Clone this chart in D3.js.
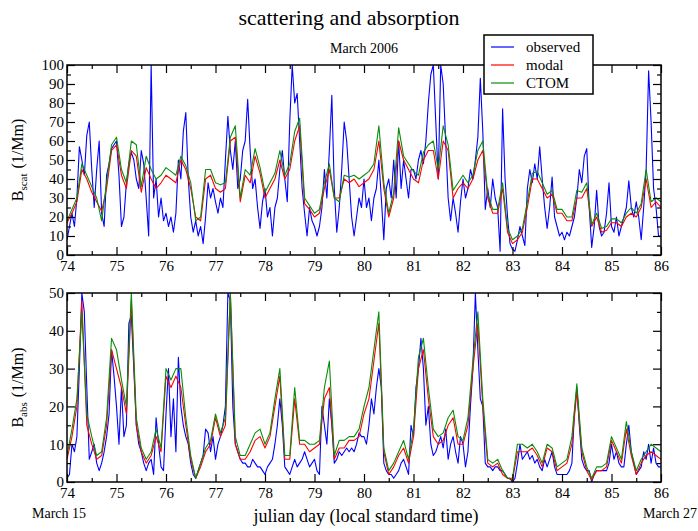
<!DOCTYPE html>
<html lang='en'>
<head>
	<meta charset='UTF-8'/>
	<title>scattering and absorption</title>
	<script src='https://cdn.jsdelivr.net/npm/d3@7'></script>
	<style>
		body {margin: 0; background: #fff;}
		svg {display: block;}
		text {font-family: 'Liberation Serif', 'Times New Roman', serif;}
		.axis path {display: none;}
		.axis line {stroke: #000; stroke-width: 1.2;}
		.axis text {font-size: 15px; fill: #000;}
	</style>
</head>
<body>
	<div class='graph'></div>
	<script>
		// sampling of the series (julian day)
		const DAY_START = 74, DAY_END = 86;
		const OBS_STEP = 0.05, MOD_STEP = 0.1;

		// top panel: scattering (1/Mm)
		const scatObserved = [
			8,15,22,15,30,57,50,42,63,70,45,25,45,60,22,15,42,48,56,58,
			60,42,15,20,38,48,54,50,40,35,55,48,30,10,100,30,40,20,30,18,
			22,15,20,12,22,50,40,65,75,40,20,12,18,10,15,6,20,38,30,35,
			28,22,30,25,50,73,55,45,60,35,40,55,60,82,55,35,40,25,14,28,
			35,20,25,10,25,30,45,55,40,28,70,100,80,85,60,35,22,10,25,18,
			15,10,15,25,45,30,55,84,35,12,25,45,70,60,40,20,10,20,30,25,
			40,25,30,18,30,35,50,30,8,35,40,30,50,30,60,35,50,40,30,45,
			45,40,50,55,48,60,80,95,100,70,40,100,90,60,30,18,30,22,12,28,
			40,30,35,45,40,50,62,93,65,24,35,25,40,30,25,2,77,40,20,6,
			3,2,8,15,10,5,35,45,38,48,40,57,40,25,14,25,41,20,15,10,
			12,8,12,10,15,20,30,45,38,52,56,25,4,15,34,15,10,12,22,38,
			15,12,20,10,15,20,25,39,25,20,28,20,8,25,45,97,70,35,25,10,
			10
		];
		const scatModal = [
			17,22,28,45,40,33,28,23,35,55,
			58,42,35,55,52,33,46,40,35,38,
			42,40,38,50,45,35,20,18,40,42,
			35,33,35,60,62,28,42,38,52,43,
			30,35,40,50,40,45,60,68,27,24,
			20,22,35,45,30,30,40,38,40,36,
			38,40,45,60,35,20,30,60,50,45,
			40,38,50,55,55,40,60,55,30,35,
			38,35,40,50,55,30,22,22,35,12,
			6,8,12,25,40,40,35,30,32,22,
			22,18,18,30,30,35,15,20,12,13,
			17,17,15,20,22,20,25,40,25,28,
			25
		];
		const scatCTOM = [
			18,24,30,48,42,36,30,18,38,58,
			62,45,38,60,58,36,52,45,40,42,
			46,44,42,52,47,38,18,20,45,45,
			38,37,38,62,68,30,45,42,56,46,
			33,38,43,55,42,48,65,72,30,26,
			22,24,38,48,30,28,42,41,42,40,
			42,44,48,68,38,22,33,67,52,48,
			44,42,54,58,60,45,68,58,34,38,
			42,38,42,55,60,32,24,24,38,14,
			8,10,14,28,43,44,38,32,34,24,
			24,20,20,34,33,38,16,22,14,15,
			19,19,17,22,25,22,27,45,28,30,
			28
		];

		// bottom panel: absorption (1/Mm)
		const absObserved = [
			1,2,10,8,12,30,50,45,25,6,8,10,5,3,5,8,12,18,35,28,
			20,10,25,12,15,42,44,30,15,10,8,5,3,5,6,2,17,10,4,3,
			18,30,12,22,8,33,20,15,12,10,5,2,1,3,5,7,14,13,8,12,
			6,10,12,15,20,50,48,20,10,8,6,5,5,4,4,6,5,4,4,3,
			2,4,5,6,10,15,22,15,4,3,2,4,6,4,5,6,8,6,4,5,
			6,3,2,20,15,10,22,15,5,6,8,7,8,9,8,9,8,10,13,12,
			12,10,15,22,18,25,30,25,5,3,2,2,1,2,3,5,6,4,2,15,
			12,25,30,38,30,15,20,10,7,8,10,12,9,14,6,10,12,8,5,12,
			10,4,8,20,30,50,35,22,20,5,4,4,3,4,4,3,3,2,1,1,
			0,1,5,10,6,7,8,6,7,5,6,4,3,6,4,6,8,4,2,2,
			2,2,2,3,5,18,25,15,6,4,3,3,0,2,3,3,3,3,3,5,
			10,6,8,5,4,4,10,15,8,5,2,3,4,8,6,10,5,9,5,4,
			4
		];
		const absModal = [
			6,12,20,48,15,10,6,7,15,35,
			30,25,18,48,15,8,5,7,12,8,
			28,25,28,25,15,6,1,4,8,10,
			17,12,15,50,10,6,6,8,11,12,
			9,12,20,28,6,6,22,10,10,8,
			9,10,22,25,6,9,9,11,11,12,
			18,22,32,42,8,2,4,7,9,5,
			12,30,35,22,12,10,11,15,17,10,
			10,15,30,42,20,5,4,5,2,1,
			0.5,8,8,8,9,7,4,9,8,3,
			4,5,10,24,8,3,0.5,3,3,4,
			11,8,5,14,7,2,5,7,8,7,
			6
		];
		const absCTOM = [
			7,14,22,45,18,12,7,8,17,38,
			35,27,20,50,17,9,6,8,14,9,
			30,27,30,30,17,7,1,5,9,11,
			18,13,17,50,12,7,7,10,13,14,
			10,13,22,30,7,7,25,11,11,10,
			10,11,25,32,7,11,11,12,12,14,
			20,25,35,45,9,3,5,8,11,6,
			14,33,38,25,14,12,13,17,19,12,
			11,17,32,45,22,6,5,6,3,1,
			1,10,10,9,10,8,5,10,9,4,
			5,6,12,26,9,4,1,4,4,5,
			12,9,6,16,8,3,6,8,10,9,
			8
		];

		const SERIES = ['observed', 'modal', 'CTOM'];
		const COLOURS = ['#0000ff', '#ff0000', '#0a8c0a'];
		const FONT = "'Liberation Serif', 'Times New Roman', serif";

		const width = 698, height = 531;
		const plotLeft = 67, plotRight = 661;

		const svg = d3.select('.graph')
			.append('svg')
			.attr('width', width)
			.attr('height', height);

		const x = d3.scaleLinear()
			.domain([DAY_START, DAY_END])
			.range([plotLeft, plotRight]);

		const toPoints = (vals, step) => vals.map((v, i) => [DAY_START + i * step, v]);

		function drawPanel(top, bottom, yMax, name, label, sets) {
			const y = d3.scaleLinear().domain([0, yMax]).range([bottom, top]);
			const g = svg.append('g');

			g.append('clipPath')
				.attr('id', 'clip-' + name)
				.append('rect')
				.attr('x', plotLeft).attr('y', top)
				.attr('width', plotRight - plotLeft).attr('height', bottom - top);

			const line = d3.line()
				.x(d => x(d[0]))
				.y(d => y(d[1]));

			g.append('g')
				.attr('clip-path', 'url(#clip-' + name + ')')
				.selectAll('path')
				.data(sets)
				.enter()
				.append('path')
				.attr('d', d => line(d.points))
				.attr('fill', 'none')
				.attr('stroke', d => d.colour)
				.attr('stroke-width', 1.1)
				.attr('stroke-linejoin', 'round');

			const dayTicks = d3.range(DAY_START, DAY_END + 1, 1);
			const halfTicks = d3.range(DAY_START + 0.5, DAY_END, 1);
			const yMajor = d3.range(0, yMax + 1, 10);
			const yMinor = d3.range(5, yMax, 10);

			// axis helper: ticks point inwards, labels only where asked
			const addAxis = (axis, tx, ty) => g.append('g')
				.attr('class', 'axis')
				.attr('font-family', FONT)
				.attr('transform', 'translate(' + tx + ',' + ty + ')')
				.call(axis);

			addAxis(d3.axisBottom(x).tickValues(dayTicks).tickSize(-8).tickPadding(5).tickFormat(d3.format('d')), 0, bottom);
			addAxis(d3.axisBottom(x).tickValues(halfTicks).tickSize(-4).tickFormat(''), 0, bottom);
			addAxis(d3.axisTop(x).tickValues(dayTicks).tickSize(-8).tickFormat(''), 0, top);
			addAxis(d3.axisTop(x).tickValues(halfTicks).tickSize(-4).tickFormat(''), 0, top);
			addAxis(d3.axisLeft(y).tickValues(yMajor).tickSize(-8).tickPadding(3).tickFormat(d3.format('d')), plotLeft, 0);
			addAxis(d3.axisLeft(y).tickValues(yMinor).tickSize(-4).tickFormat(''), plotLeft, 0);
			addAxis(d3.axisRight(y).tickValues(yMajor).tickSize(-8).tickFormat(''), plotRight, 0);
			addAxis(d3.axisRight(y).tickValues(yMinor).tickSize(-4).tickFormat(''), plotRight, 0);

			g.append('rect')
				.attr('x', plotLeft).attr('y', top)
				.attr('width', plotRight - plotLeft).attr('height', bottom - top)
				.attr('fill', 'none')
				.attr('stroke', '#000')
				.attr('stroke-width', 1.5);

			// y label with subscript
			const lab = g.append('text')
				.attr('transform', 'translate(23,' + ((top + bottom) / 2) + ') rotate(-90)')
				.attr('text-anchor', 'middle')
				.style('font-size', '16px');
			lab.append('tspan').text('B');
			lab.append('tspan').attr('dy', 4).style('font-size', '11px').text(label);
			lab.append('tspan').attr('dy', -4).attr('dx', 5).text('(1/Mm)');
		}

		drawPanel(65, 255, 100, 'scat', 'scat', [
			{points: toPoints(scatObserved, OBS_STEP), colour: COLOURS[0]},
			{points: toPoints(scatModal, MOD_STEP), colour: COLOURS[1]},
			{points: toPoints(scatCTOM, MOD_STEP), colour: COLOURS[2]}
		]);
		drawPanel(293, 482, 50, 'abs', 'abs', [
			{points: toPoints(absObserved, OBS_STEP), colour: COLOURS[0]},
			{points: toPoints(absModal, MOD_STEP), colour: COLOURS[1]},
			{points: toPoints(absCTOM, MOD_STEP), colour: COLOURS[2]}
		]);

		// titles
		svg.append('text')
			.attr('x', 349).attr('y', 25)
			.attr('text-anchor', 'middle')
			.style('font-size', '22px')
			.text('scattering and absorption');
		svg.append('text')
			.attr('x', 364).attr('y', 53)
			.attr('text-anchor', 'middle')
			.style('font-size', '14px')
			.text('March 2006');
		svg.append('text')
			.attr('x', 366).attr('y', 522)
			.attr('text-anchor', 'middle')
			.style('font-size', '18px')
			.text('julian day (local standard time)');
		svg.append('text')
			.attr('x', 32).attr('y', 518)
			.style('font-size', '14px')
			.text('March 15');
		svg.append('text')
			.attr('x', 697).attr('y', 518)
			.attr('text-anchor', 'end')
			.style('font-size', '14px')
			.text('March 27');

		// legend
		const legend = svg.append('g').attr('id', 'legend');
		legend.append('rect')
			.attr('x', 484).attr('y', 35)
			.attr('width', 109).attr('height', 59)
			.attr('fill', '#fff')
			.attr('stroke', '#000')
			.attr('stroke-width', 1.5);
		const rows = legend.selectAll('g.row')
			.data(SERIES)
			.enter()
			.append('g')
			.attr('class', 'row')
			.attr('transform', (d, i) => 'translate(0,' + (47 + i * 18) + ')');
		rows.append('line')
			.attr('x1', 491).attr('x2', 514)
			.attr('stroke', (d, i) => COLOURS[i])
			.attr('stroke-width', 1.2);
		rows.append('text')
			.attr('x', 526).attr('y', 5)
			.style('font-size', '15px')
			.text(d => d);
	</script>
</body>
</html>
